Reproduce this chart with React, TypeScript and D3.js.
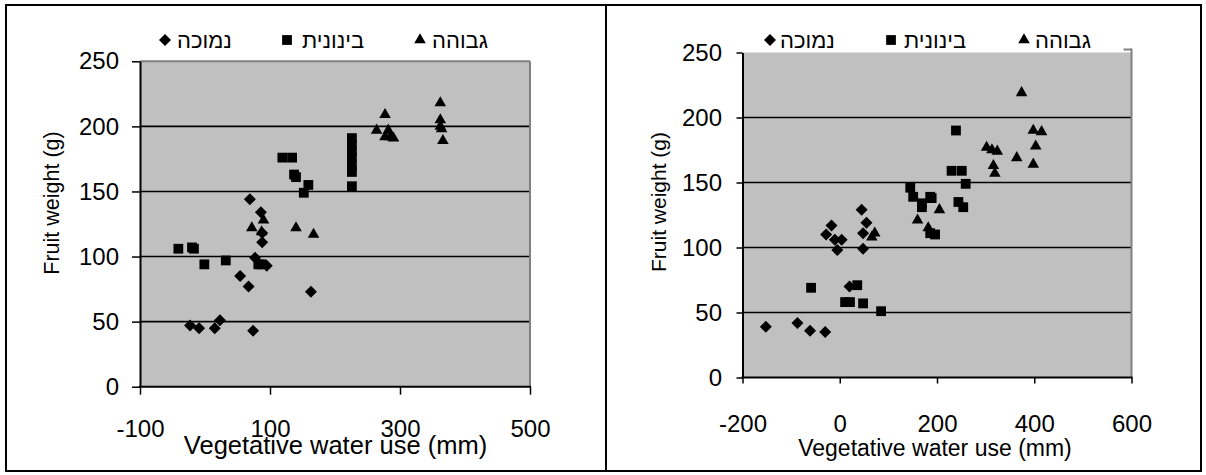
import React, { useEffect, useRef } from 'react';
import * as d3 from 'd3';

// legend names (low / medium / high)
const seriesNames = ['נמוכה', 'בינונית', 'גבוהה'];
const yTicks = [0, 50, 100, 150, 200, 250];
const gridValues = [50, 100, 150, 200];

// left panel
const leftXTicks = [-100, 100, 300, 500];
const leftLow = [[-23, 47], [-9, 45], [15, 45], [23, 51], [54, 85], [67, 77], [69, 144], [77, 99], [74, 43], [86, 134], [88, 111], [88, 118], [95, 93], [163, 73]];
const leftMid = [[-41, 106], [-20, 107], [-17, 106], [-1, 94], [32, 97], [82, 94], [87, 94], [119, 176], [134, 176], [137, 163], [140, 161], [152, 149], [159, 155], [226, 191], [226, 186], [226, 181], [226, 176], [226, 170], [226, 165], [226, 154]];
const leftHigh = [[72, 122], [87, 119], [90, 128], [140, 122], [167, 117], [264, 197], [277, 209], [277, 192], [282, 197], [285, 192], [290, 191], [362, 218], [362, 205], [362, 200], [364, 198], [366, 189]];

// right panel
const rightXTicks = [-200, 0, 200, 400, 600];
const rightLow = [[-152, 39], [-87, 42], [-61, 36], [-30, 35], [-28, 110], [-17, 117], [-10, 106], [-5, 98], [4, 106], [20, 70], [45, 129], [48, 111], [48, 99], [55, 119]];
const rightMid = [[-59, 69], [11, 58], [21, 58], [36, 71], [48, 57], [85, 51], [145, 146], [151, 139], [169, 134], [169, 131], [186, 139], [189, 138], [186, 111], [196, 110], [230, 159], [239, 190], [244, 135], [251, 159], [254, 131], [259, 149]];
const rightHigh = [[66, 108], [72, 111], [160, 121], [182, 115], [205, 129], [302, 177], [313, 175], [316, 163], [319, 157], [324, 174], [364, 169], [374, 219], [398, 190], [398, 164], [403, 178], [415, 189]];

const FONT = "'Liberation Sans', Arial, sans-serif";

const markers = [
  d3.symbol().type(d3.symbolSquare).size(72)(),   // diamond, rotated below
  d3.symbol().type(d3.symbolSquare).size(96)(),
  d3.symbol().type(d3.symbolTriangle).size(58)(),
];
const markerRot = [45, 0, 0];

function drawPanel(g: any, p: any) {
  let x = d3.scaleLinear().domain(p.xDomain).range([p.left, p.right]);
  let y = d3.scaleLinear().domain([0, 250]).range([p.bottom, p.top]);

  g.append('rect')
    .attr('x', p.left).attr('y', p.top)
    .attr('width', p.right - p.left).attr('height', p.bottom - p.top)
    .attr('fill', '#c0c0c0');

  g.selectAll('.grid')
    .data(gridValues)
    .enter().append('line')
    .attr('class', 'grid')
    .attr('x1', p.left).attr('x2', p.right)
    .attr('y1', (d) => y(d)).attr('y2', (d) => y(d))
    .attr('stroke', '#000').attr('stroke-width', 1.6);

  // gray plot border
  g.append('line')
    .attr('x1', p.right).attr('x2', p.right)
    .attr('y1', p.top - (p.topBorder ? 0 : 4)).attr('y2', p.bottom)
    .attr('stroke', '#808080').attr('stroke-width', 2);
  if (p.topBorder) {
    g.append('line')
      .attr('x1', p.left).attr('x2', p.right)
      .attr('y1', p.top).attr('y2', p.top)
      .attr('stroke', '#808080').attr('stroke-width', 2);
  } else {
    g.append('line')
      .attr('x1', p.right - 8).attr('x2', p.right)
      .attr('y1', p.top - 3).attr('y2', p.top - 3)
      .attr('stroke', '#808080').attr('stroke-width', 2);
  }

  // plain hyphen for negatives, like the original
  let fmt = (d: any) => String(d);

  let xAxis = d3.axisBottom(x).tickValues(p.xTicks).tickSize(p.tick).tickSizeOuter(0)
    .tickPadding(p.xPad).tickFormat(fmt);
  let gx = g.append('g').attr('transform', `translate(0,${p.bottom})`).call(xAxis);

  let yAxis = d3.axisLeft(y).tickValues(yTicks).tickSize(p.tick).tickSizeOuter(0)
    .tickPadding(p.yPad).tickFormat(fmt);
  let gy = g.append('g').attr('transform', `translate(${p.left},0)`).call(yAxis);

  [gx, gy].forEach((a) => {
    a.attr('font-family', FONT).attr('font-size', 24);
    a.select('.domain').attr('stroke', '#000').attr('stroke-width', 2);
    a.selectAll('.tick line').attr('stroke', '#000').attr('stroke-width', 1.5);
    a.selectAll('.tick text').attr('fill', '#000');
  });
  // x axis line a bit wider so the corner looks closed
  gx.select('.domain').attr('d', `M${p.left - 1},0H${p.right + 1}`);

  // points
  p.series.forEach((pts: number[][], i: number) => {
    g.selectAll('.pt' + i)
      .data(pts)
      .enter().append('path')
      .attr('class', 'pt' + i)
      .attr('d', markers[i])
      .attr('transform', (d: number[]) => `translate(${x(d[0])},${y(d[1])}) rotate(${markerRot[i]})`)
      .attr('fill', '#000');
  });

  // axis titles
  g.append('text')
    .attr('x', p.xTitle[0]).attr('y', p.xTitle[1])
    .attr('text-anchor', 'middle')
    .attr('font-family', FONT).attr('font-size', p.xTitleSize)
    .text('Vegetative water use (mm)');

  g.append('text')
    .attr('transform', `translate(${p.yTitle[0]},${p.yTitle[1]}) rotate(-90)`)
    .attr('text-anchor', 'middle')
    .attr('font-family', FONT).attr('font-size', p.yTitleSize)
    .text('Fruit weight (g)');

  // legend
  seriesNames.forEach((name, i) => {
    g.append('path')
      .attr('d', markers[i])
      .attr('transform', `translate(${p.legendMarkerX[i]},${p.legendY}) rotate(${markerRot[i]})`)
      .attr('fill', '#000');
    g.append('text')
      .attr('x', p.legendTextX[i]).attr('y', p.legendY + 8)
      .attr('font-family', FONT).attr('font-size', 22)
      .text(name);
  });
}

export default function App() {
  const ref = useRef<SVGSVGElement>(null);

  useEffect(() => {
    let svg = d3.select(ref.current);
    svg.selectAll('*').remove();

    // frame and divider
    svg.append('rect')
      .attr('x', 6).attr('y', 5).attr('width', 1195).attr('height', 466)
      .attr('fill', 'none').attr('stroke', '#000').attr('stroke-width', 2);
    svg.append('line')
      .attr('x1', 606).attr('x2', 606).attr('y1', 5).attr('y2', 471)
      .attr('stroke', '#000').attr('stroke-width', 2);

    drawPanel(svg.append('g'), {
      xDomain: [-100, 500], xTicks: leftXTicks,
      left: 140, right: 530, top: 61.3, bottom: 386.7,
      tick: 8, xPad: 25, yPad: 13, topBorder: true,
      series: [leftLow, leftMid, leftHigh],
      xTitle: [335.5, 454], xTitleSize: 25.5,
      yTitle: [59, 203], yTitleSize: 21.5,
      legendY: 40, legendMarkerX: [165, 287, 420], legendTextX: [177, 302, 432],
    });

    drawPanel(svg.append('g'), {
      xDomain: [-200, 600], xTicks: rightXTicks,
      left: 742.5, right: 1131.5, top: 52.5, bottom: 377.5,
      tick: 6, xPad: 31, yPad: 14.5, topBorder: false,
      series: [rightLow, rightMid, rightHigh],
      xTitle: [935, 456], xTitleSize: 23,
      yTitle: [666, 202], yTitleSize: 21,
      legendY: 40, legendMarkerX: [770, 891, 1024], legendTextX: [780, 904, 1035],
    });
  }, []);

  return (
    <svg ref={ref} width={1206} height={475}
      style={{ position: 'absolute', left: 0, top: 0, background: '#fff' }} />
  );
}
